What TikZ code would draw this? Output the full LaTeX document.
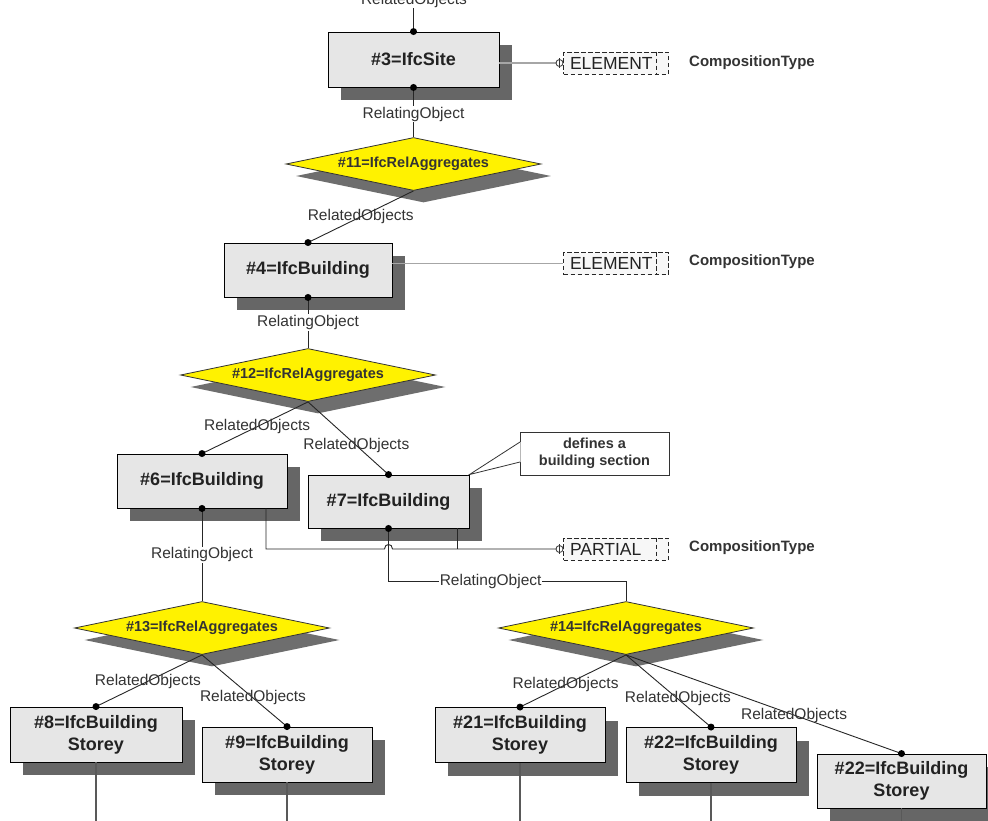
\documentclass[tikz,border=0pt]{standalone}
\usepackage{fontspec}
\setmainfont{Liberation Sans}
\usetikzlibrary{shapes.geometric,shadows,calc}
\definecolor{boxfill}{HTML}{E6E6E6}
\definecolor{shade}{HTML}{666666}
\definecolor{dshade}{HTML}{6E6E6E}
\definecolor{ink}{HTML}{222222}
\definecolor{lbl}{HTML}{333333}
\begin{document}
\begin{tikzpicture}[x=1pt,y=-1pt,
 ent/.style={draw=black,line width=0.9pt,fill=boxfill,inner sep=0pt,align=center,
   font=\fontsize{18}{22}\selectfont\bfseries,text=ink,
   drop shadow={shadow xshift=13pt,shadow yshift=-13pt,fill=shade,opacity=1}},
 rel/.style={diamond,draw=black!80,line width=0.8pt,fill=yellow,inner sep=0pt,aspect=4.7,
   minimum width=255pt,minimum height=53pt,font=\fontsize{14.5}{17}\selectfont\bfseries,text=lbl,
   drop shadow={shadow xshift=10pt,shadow yshift=-12pt,fill=dshade,opacity=1}},
 lab/.style={font=\fontsize{15.5}{18}\selectfont,text=lbl,inner sep=1pt},
 labw/.style={lab,fill=white},
 ct/.style={font=\fontsize{15}{18}\selectfont\bfseries,text=lbl,anchor=west,inner sep=0pt},
 elem/.style={draw=black!85,dash pattern=on 4.5pt off 2.5pt,line width=1pt,fill=gray!6,
   minimum height=22pt,text width=92pt,inner xsep=6.5pt,inner ysep=0pt,align=left,anchor=west,
   font=\fontsize{17.5}{20}\selectfont,text=ink},
 dot/.style={circle,fill=black,inner sep=0pt,minimum size=7pt},
 phi/.style={circle,draw=black!80,line width=0.8pt,fill=white,inner sep=0pt,minimum size=7pt},
 conn/.style={draw=black!85,line width=0.9pt},
 gline/.style={draw=gray!70,line width=1.3pt},
 down/.style={draw=black!65,line width=1.1pt}
]
\useasboundingbox (0,0) rectangle (988,820);
\fill[white] (0,0) rectangle (988,820);

% entity boxes and relationship diamonds
\node[ent,minimum width=171pt,minimum height=55pt] (n3) at (413.5,59.5) {\#3=IfcSite};
\node[rel] (n11) at (413.5,164) {\#11=IfcRelAggregates};
\node[ent,minimum width=168pt,minimum height=54pt] (n4) at (308,270) {\#4=IfcBuilding};
\node[rel] (n12) at (308,375) {\#12=IfcRelAggregates};
\node[ent,minimum width=170pt,minimum height=54pt] (n6) at (202,481) {\#6=IfcBuilding};
\node[ent,minimum width=161pt,minimum height=53pt] (n7) at (388.5,501.5) {\#7=IfcBuilding};
\node[rel] (n13) at (202,628) {\#13=IfcRelAggregates};
\node[rel] (n14) at (626,628) {\#14=IfcRelAggregates};
\node[ent,minimum width=172pt,minimum height=55pt] (n8) at (96,734.5) {\#8=IfcBuilding\\Storey};
\node[ent,minimum width=170pt,minimum height=55pt] (n9) at (287,754.5) {\#9=IfcBuilding\\Storey};
\node[ent,minimum width=170pt,minimum height=55pt] (n21) at (520,735) {\#21=IfcBuilding\\Storey};
\node[ent,minimum width=170pt,minimum height=55pt] (n22) at (711,755) {\#22=IfcBuilding\\Storey};
\node[ent,minimum width=169pt,minimum height=54pt] (n22b) at (901.5,781) {\#22=IfcBuilding\\Storey};

% helper coordinates
\coordinate (top) at (413.5,-20);
\coordinate (bot) at (0,830);
\coordinate (b7) at (388.5,581);
\coordinate (b14) at (626,581);
\coordinate (p6) at (266,549);
\coordinate (p7) at (457,549);
\coordinate (h1) at (384.5,549);
\coordinate (h2) at (392.5,549);

% vertical relating connectors
\draw[conn] (n3.north) -- (top);
\node[labw,anchor=base] (l0) at (414,4) {RelatedObjects};
\draw[conn] (n3.south) -- node[labw,pos=0.54] (l1) {RelatingObject} (n11.north);
\draw[conn] (n4.south) -- node[labw,pos=0.49] (l3) {RelatingObject} (n12.north);
\draw[conn] (n6.south) -- node[labw,pos=0.5] (l6) {RelatingObject} (n13.north);
\draw[conn] (n7.south) -- (b7) -- node[labw,pos=0.43] (l7) {RelatingObject} (b14) -- (n14.north);

% related objects connectors
\draw[conn] (n11.south) -- node[lab,pos=0.5] (r1) {RelatedObjects} (n4.north);
\draw[conn] (n12.south) -- node[lab,pos=0.48] (r2) {RelatedObjects} (n6.north);
\draw[conn] (n12.south) -- node[lab,pos=0.6] (r3) {RelatedObjects} (n7.north);
\draw[conn] (n13.south) -- node[lab,pos=0.51] (r4) {RelatedObjects} (n8.north);
\draw[conn] (n13.south) -- node[lab,pos=0.6] (r5) {RelatedObjects} (n9.north);
\draw[conn] (n14.south) -- node[lab,pos=0.57] (r6) {RelatedObjects} (n21.north);
\draw[conn] (n14.south) -- node[lab,pos=0.61] (r7) {RelatedObjects} (n22.north);
\draw[conn] (n14.south) -- node[lab,pos=0.61] (r8) {RelatedObjects} (n22b.north);

% lines leaving the storeys downward
\draw[down] (n8.south) -- (n8.south |- bot);
\draw[down] (n9.south) -- (n9.south |- bot);
\draw[down] (n21.south) -- (n21.south |- bot);
\draw[down] (n22.south) -- (n22.south |- bot);
\draw[down] (n22b.south) -- (n22b.south |- bot);

% composition type enumerations
\node[elem] (e1) at (563,63) {ELEMENT};
\node[elem] (e2) at (563,263.5) {ELEMENT};
\node[elem] (e3) at (563,549) {PARTIAL};
\foreach \e in {e1,e2,e3}{
  \draw[draw=black!85,dash pattern=on 4.5pt off 2.5pt,line width=1pt]
    ([xshift=-13pt]\e.north east) -- ([xshift=-13pt]\e.south east);
}
\node[ct] (c1) at (689,63) {CompositionType};
\node[ct] (c2) at (689,262) {CompositionType};
\node[ct] (c3) at (689,548) {CompositionType};

\draw[gline] (n3.east |- e1.west) -- ([xshift=-7pt]e1.west);
\node[phi] (f1) at ([xshift=-3.5pt]e1.west) {};
\draw[black!80,line width=0.8pt] ([yshift=5pt]f1.center) -- ([yshift=-5pt]f1.center);
\draw[gline] (n4.east |- e2.west) -- (e2.west);

\draw[conn] (p6 |- n6.south) -- (p6) -- (h1) .. controls (384.5,543) and (392.5,543) .. (h2) -- ([xshift=-7pt]e3.west);
\draw[conn] (p7 |- n7.south) -- (p7);
\node[phi] (f3) at ([xshift=-3.5pt]e3.west) {};
\draw[black!80,line width=0.8pt] ([yshift=5pt]f3.center) -- ([yshift=-5pt]f3.center);

% callout
\node[draw=black!80,line width=0.8pt,fill=white,minimum width=149pt,minimum height=43pt,inner sep=0pt,
  align=center,font=\fontsize{14.5}{17.5}\selectfont\bfseries,text=lbl] (cb) at (594.5,453.5) {defines a\\building section};
\fill[white] (520.6,442) -- (n7.north east) -- (520.6,462) -- cycle;
\draw[black!80,line width=0.8pt] (520,442) -- (n7.north east) -- (520,462);

% dots
\foreach \n in {n3.north,n3.south,n4.north,n4.south,n6.north,n6.south,n7.north,n7.south,
  n8.north,n9.north,n21.north,n22.north,n22b.north}{
  \node[dot] at (\n) {};
}
\end{tikzpicture}
\end{document}
